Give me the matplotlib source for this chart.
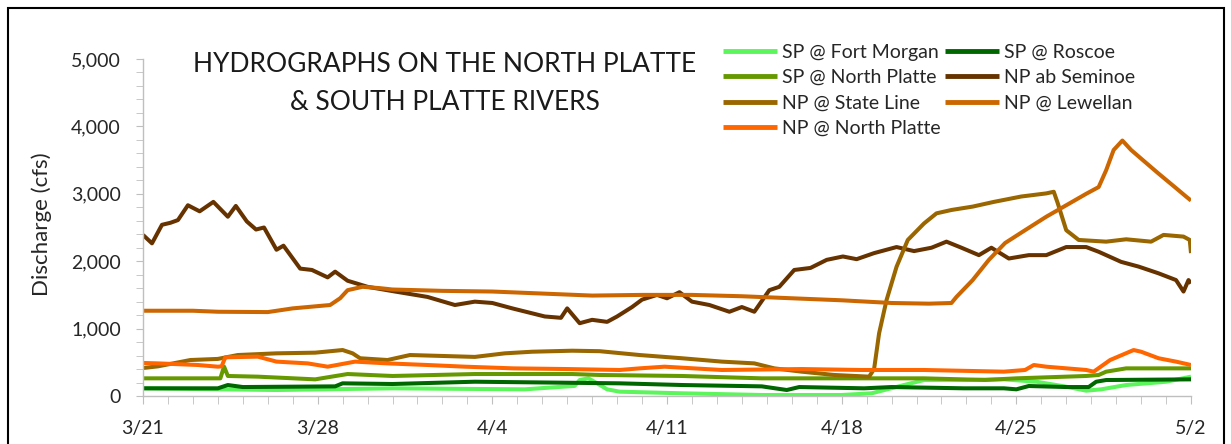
import matplotlib
matplotlib.use("Agg")
import matplotlib.pyplot as plt
from matplotlib.patches import Rectangle
from matplotlib.ticker import MultipleLocator, StrMethodFormatter

plt.rcParams['font.family'] = ['Lato', 'DejaVu Sans']

# days since 3/21 and discharge (cfs)
fm_days = [0, 5.35, 10, 15.3, 17.3, 17.5, 17.85, 18.2, 18.6, 19.1, 21.6, 24.8, 28, 29.2,
           30.5, 31.3, 33, 34.5, 35.8, 37, 37.8, 38.4, 39.4, 41, 42]
fm_vals = [114, 89, 114, 99, 150, 237, 262, 188, 99, 64, 40, 15, 15, 40,
           163, 237, 237, 247, 212, 138, 79, 99, 163, 212, 287]

roscoe_days = [0, 3.0, 3.4, 4.0, 7.7, 8.0, 10, 13.3, 19.1, 21.6, 24.8, 25.8, 26.3, 28.9,
               30, 32.9, 34.5, 35, 35.5, 37, 37.9, 38.2, 38.6, 42]
roscoe_vals = [114, 114, 163, 133, 143, 188, 178, 212, 188, 163, 143, 89, 133, 114,
               133, 114, 114, 99, 148, 133, 133, 212, 237, 247]

spnp_days = [0, 3.1, 3.2, 3.25, 3.4, 4.6, 6.9, 8.2, 10, 13.3, 17.2, 18.3, 21.6, 24.8,
             28, 31.3, 33.75, 35, 37.8, 38.3, 38.6, 39.4, 42]
spnp_vals = [262, 262, 380, 435, 297, 287, 247, 326, 297, 326, 326, 312, 297, 262,
             262, 262, 238, 262, 297, 312, 361, 410, 410]

seminoe_days = [0, 0.36, 0.76, 1.1, 1.4, 1.8, 2.27, 2.82, 3.4, 3.72, 4.16, 4.53, 4.85, 5.35,
                5.63, 6.3, 6.77, 7.4, 7.7, 8.2, 9.0, 10.1, 11.4, 12.5, 13.3, 14.0, 14.8,
                16.1, 16.75, 17.0, 17.5, 18.0, 18.6, 19.0, 19.6, 20.0, 20.6, 21.0, 21.5,
                22.0, 22.7, 23.5, 24.0, 24.5, 25.1, 25.5, 26.1, 26.75, 27.4, 28.05, 28.6,
                29.3, 30.2, 30.9, 31.6, 32.2, 32.8, 33.5, 34.0, 34.7, 35.5, 36.2, 37.0,
                37.8, 38.3, 39.2, 39.9, 40.7, 41.4, 41.7, 41.9, 42.0]
seminoe_vals = [2390, 2265, 2540, 2570, 2610, 2830, 2740, 2880, 2660, 2820, 2590, 2470, 2500, 2170,
                2230, 1890, 1870, 1760, 1845, 1710, 1620, 1550, 1470, 1350, 1400, 1380, 1300,
                1180, 1160, 1300, 1080, 1130, 1100, 1180, 1320, 1430, 1500, 1450, 1540,
                1400, 1350, 1250, 1320, 1250, 1570, 1620, 1870, 1900, 2020, 2070, 2030,
                2120, 2210, 2150, 2200, 2290, 2200, 2090, 2200, 2040, 2090, 2090, 2210,
                2210, 2140, 1990, 1920, 1820, 1720, 1550, 1720, 1670]

stateline_days = [0, 0.6, 1.9, 3.0, 3.8, 5.35, 6.9, 8.0, 8.4, 8.7, 9.8, 10.7, 13.3, 14.5,
                  15.6, 17.2, 18.3, 19.9, 21.6, 23.2, 24.5, 25.3, 26.4, 27.7, 29.1, 29.3,
                  29.5, 29.8, 30.2, 30.65, 31.3, 31.8, 32.4, 33.25, 34.1, 35.2, 36.2, 36.5,
                  36.66, 37.0, 37.5, 38.6, 39.4, 40.4, 40.9, 41.7, 41.95, 42]
stateline_vals = [415, 440, 534, 550, 608, 633, 643, 682, 633, 560, 534, 608, 580, 633,
                  657, 672, 665, 608, 560, 510, 484, 410, 361, 312, 287, 400,
                  930, 1425, 1918, 2315, 2560, 2710, 2760, 2810, 2880, 2960, 3006, 3030,
                  2860, 2460, 2315, 2290, 2325, 2290, 2390, 2365, 2315, 2120]

lewellan_days = [0, 2, 3, 5, 6, 7.5, 7.9, 8.2, 8.8, 9.5, 10, 12, 14, 16, 18, 20, 22, 24,
                 26, 28, 30, 31.5, 32.4, 32.6, 33.25, 33.9, 34.55, 35.35, 36.2, 37.0, 37.8,
                 38.3, 38.6, 38.9, 39.25, 39.6, 40.07, 40.7, 41.35, 41.8, 42]
lewellan_vals = [1265, 1265, 1250, 1245, 1300, 1350, 1450, 1570, 1620, 1600, 1580, 1560, 1550,
                 1520, 1490, 1500, 1500, 1480, 1450, 1420, 1380, 1370, 1380, 1470, 1720, 2020,
                 2270, 2460, 2660, 2830, 3000, 3100, 3350, 3650, 3790, 3650, 3500, 3300,
                 3100, 2960, 2900]

npnp_days = [0, 0.6, 2.2, 3.0, 3.15, 3.3, 4.6, 5.35, 6.6, 7.4, 8.5, 9.8, 11.4, 12.9, 14.85,
             17, 19.1, 19.9, 20.9, 23.2, 26.4, 28.8, 31.3, 34.5, 35.35, 35.7, 36.2, 37.8,
             38.1, 38.76, 39.7, 40.0, 40.7, 41.4, 42]
npnp_vals = [490, 484, 460, 435, 440, 574, 584, 510, 484, 435, 510, 484, 460, 435, 410,
             400, 386, 410, 435, 386, 400, 386, 386, 361, 386, 460, 435, 386,
             361, 534, 682, 657, 560, 510, 460]

series = [
    ("SP @ Fort Morgan", fm_days, fm_vals, "#5cf55c"),
    ("SP @ Roscoe", roscoe_days, roscoe_vals, "#006600"),
    ("SP @ North Platte", spnp_days, spnp_vals, "#669900"),
    ("NP ab Seminoe", seminoe_days, seminoe_vals, "#663300"),
    ("NP @ State Line", stateline_days, stateline_vals, "#996600"),
    ("NP @ Lewellan", lewellan_days, lewellan_vals, "#cc6600"),
    ("NP @ North Platte", npnp_days, npnp_vals, "#ff6600"),
]

date_ticks = [0, 7, 14, 21, 28, 35, 42]
date_labels = ["3/21", "3/28", "4/4", "4/11", "4/18", "4/25", "5/2"]

W, H = 1231, 444
fig = plt.figure(figsize=(W / 100, H / 100), dpi=100)
ax = fig.add_axes([143 / W, 1 - 396 / H, (1191 - 143) / W, (396 - 59) / H])

lines = {}
for name, d, v, c in series:
    lines[name], = ax.plot(d, v, color=c, lw=2.9, label=name, solid_capstyle="butt")

ax.set_xlim(0, 42)
ax.set_ylim(0, 5000)
ax.set_xticks(date_ticks)
ax.set_xticklabels(date_labels)
ax.xaxis.set_minor_locator(MultipleLocator(1))
ax.yaxis.set_major_locator(MultipleLocator(1000))
ax.yaxis.set_minor_locator(MultipleLocator(200))
ax.yaxis.set_major_formatter(StrMethodFormatter("{x:,.0f}"))

for s in ["top", "right"]:
    ax.spines[s].set_visible(False)
for s in ["left", "bottom"]:
    ax.spines[s].set_color("#bfbfbf")
    ax.spines[s].set_linewidth(1.0)

ax.tick_params(axis="both", which="both", color="#bfbfbf", labelcolor="#262626", labelsize=14)
ax.tick_params(axis="x", which="both", length=6, pad=11)
ax.tick_params(axis="y", which="both", length=5, pad=11)

fig.text(42 / W, 1 - 224 / H, "Discharge (cfs)", rotation=90, ha="center", va="center",
         fontsize=16, color="#262626")

fig.text(445 / W, 1 - 64 / H, "HYDROGRAPHS ON THE NORTH PLATTE", ha="center", va="center",
         fontsize=19, color="#1a1a1a")
fig.text(445 / W, 1 - 103 / H, "& SOUTH PLATTE RIVERS", ha="center", va="center",
         fontsize=19, color="#1a1a1a")

order = ["SP @ Fort Morgan", "SP @ North Platte", "NP @ State Line", "NP @ North Platte",
         "SP @ Roscoe", "NP ab Seminoe", "NP @ Lewellan"]
leg = fig.legend([lines[n] for n in order], order, ncol=2, loc="upper left",
                 bbox_to_anchor=(723 / W, 1 - 44 / H), frameon=False, fontsize=14,
                 handlelength=2.78, handletextpad=0.26, columnspacing=0.2,
                 labelspacing=0.42, borderpad=0, borderaxespad=0)
for h in leg.get_lines():
    h.set_linewidth(3.5)
for t in leg.get_texts():
    t.set_color("#262626")

fig.patches.append(Rectangle((8 / W, -0.05), (1224 - 8) / W, 1.05 - 8 / H,
                             transform=fig.transFigure, fill=False, ec="black", lw=1.5))

fig.savefig("out.png", dpi=100)
